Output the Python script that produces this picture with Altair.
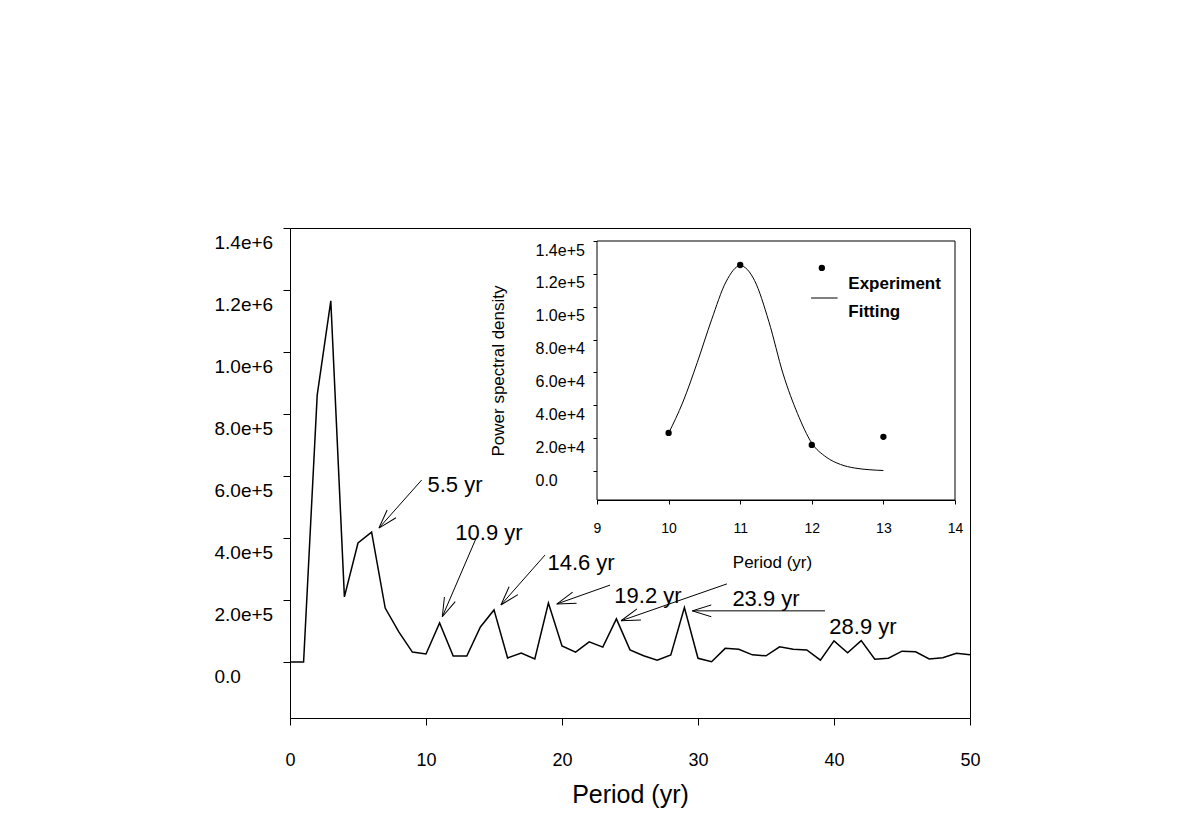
import math
import altair as alt
import pandas as pd

# ---------------- main spectrum ----------------
period = list(range(0, 51))
power = [0, 0, 861e3, 1165e3, 210e3, 384e3, 419e3, 174e3, 97e3, 32e3,
         26e3, 126e3, 19e3, 19e3, 113e3, 168e3, 13e3, 29e3, 10e3, 190e3,
         52e3, 32e3, 65e3, 48e3, 139e3, 39e3, 20e3, 6e3, 23e3, 176e3,
         12e3, 1e3, 44e3, 41e3, 23e3, 20e3, 49e3, 41e3, 39e3, 6e3,
         68e3, 30e3, 69e3, 9e3, 12e3, 35e3, 33e3, 10e3, 14e3, 28e3, 23e3]

# annotations
ann_labels = ["5.5 yr", "10.9 yr", "14.6 yr", "19.2 yr", "23.9 yr", "28.9 yr"]
ann_text_x = [12.13, 14.63, 21.40, 26.32, 35.0, 42.13]
ann_text_y = [571e3, 416e3, 319e3, 213e3, 203e3, 113e3]
arrow_x0 = [9.68, 13.73, 18.75, 23.53, 32.13, 39.34]
arrow_y0 = [587e3, 404e3, 345e3, 248e3, 252e3, 165e3]
arrow_x1 = [6.54, 11.20, 15.51, 19.61, 24.34, 29.58]
arrow_y1 = [432e3, 146e3, 184e3, 187e3, 133e3, 165e3]

# ---------------- inset ----------------
exp_period = [10, 11, 12, 13]
exp_power = [23.2e3, 125.4e3, 15.9e3, 20.8e3]
fit_period = [10.0, 10.2, 10.4, 10.6, 10.8, 11.0, 11.2, 11.4, 11.6, 11.8,
              12.0, 12.2, 12.4, 12.6, 12.8, 13.0]
fit_power = [23e3, 42e3, 66e3, 92e3, 115e3, 125e3, 116e3, 91e3, 59e3, 35e3,
             17e3, 8.5e3, 4e3, 1.8e3, 0.8e3, 0.3e3]

legend_labels = ["Experiment", "Fitting"]
legend_text_x = [12.51, 12.51]
legend_text_y = [114e3, 97e3]
legend_pt_x = [12.14]
legend_pt_y = [123.6e3]
legend_line_x = [11.99]
legend_line_x2 = [12.36]
legend_line_y = [105.3e3]

FONT = "Liberation Sans"
W, H = 680, 490
Y_MIN = -180645
Y_MAX = 1.4e6
IN_Y_MIN = -17652
IN_Y_MAX = 1.4e5

# ---------- main chart scales/axes ----------
xs = alt.Scale(domain=[0, 50], nice=False, zero=False)
ys = alt.Scale(domain=[Y_MIN, Y_MAX], nice=False, zero=False)
label_expr = "datum.value == 0 ? '0.0' : format(datum.value, '.1e')"
x_axis = alt.Axis(values=[0, 10, 20, 30, 40, 50], tickSize=7, labelFontSize=18,
                  labelPadding=35, labelBaseline="middle", title="Period (yr)",
                  titleFontSize=25, titleFontWeight="normal", titleX=340, titleY=64,
                  titleBaseline="top", titleAlign="center", grid=False)
y_axis = alt.Axis(values=[i * 2e5 for i in range(8)], labelExpr=label_expr, tickSize=7,
                  labelAlign="left", labelPadding=69, labelBaseline="middle",
                  labelOffset=14, labelFontSize=19, title=None, grid=False)

main_df = pd.DataFrame({"period": period, "power": power})
line = alt.Chart(main_df).mark_line(color="black", strokeWidth=1.5).encode(
    x=alt.X("period:Q", scale=xs, axis=x_axis),
    y=alt.Y("power:Q", scale=ys, axis=y_axis),
)

kx = W / 50.0
ky = H / (Y_MAX - Y_MIN)
angles = []
for a, b, c, d in zip(arrow_x0, arrow_y0, arrow_x1, arrow_y1):
    dx = (c - a) * kx
    dy = -(d - b) * ky
    angles.append(math.degrees(math.atan2(dy, dx)) % 360)

arr_df = pd.DataFrame({"x0": arrow_x0, "y0": arrow_y0, "x1": arrow_x1,
                       "y1": arrow_y1, "ang": angles})
shafts = alt.Chart(arr_df).mark_rule(color="black", strokeWidth=1).encode(
    x=alt.X("x0:Q", scale=xs, axis=x_axis),
    y=alt.Y("y0:Q", scale=ys, axis=y_axis),
    x2="x1:Q", y2="y1:Q",
)
heads = alt.Chart(arr_df).mark_point(
    shape="M0,0L-2,-0.62M0,0L-2,0.62", filled=False, stroke="black",
    strokeWidth=1, size=361, opacity=1
).encode(
    x=alt.X("x1:Q", scale=xs, axis=x_axis),
    y=alt.Y("y1:Q", scale=ys, axis=y_axis),
    angle=alt.Angle("ang:Q", scale=None),
)
ann_df = pd.DataFrame({"tx": ann_text_x, "ty": ann_text_y, "label": ann_labels})
ann = alt.Chart(ann_df).mark_text(font=FONT, fontSize=22, color="black",
                                  align="center", baseline="middle").encode(
    x=alt.X("tx:Q", scale=xs, axis=x_axis),
    y=alt.Y("ty:Q", scale=ys, axis=y_axis),
    text="label:N",
)
main = alt.layer(line, shafts, heads, ann)

# ---------- inset scales/axes ----------
ixs = alt.Scale(domain=[9, 14], range=[307, 665], nice=False, zero=False)
iys = alt.Scale(domain=[IN_Y_MIN, IN_Y_MAX], range=[272, 13], nice=False, zero=False)
ix_axis = alt.Axis(orient="bottom", offset=-218, values=[9, 10, 11, 12, 13, 14],
                   tickSize=4, labelFontSize=14, labelPadding=24, labelBaseline="middle",
                   title="Period (yr)", titleFontSize=17, titleFontWeight="normal",
                   titleX=482, titleY=62, titleBaseline="middle", titleAlign="center",
                   grid=False)
iy_axis = alt.Axis(orient="left", offset=-307, values=[i * 2e4 for i in range(8)],
                   labelExpr=label_expr, tickSize=4, labelAlign="left", labelPadding=58,
                   labelBaseline="middle", labelOffset=9, labelFontSize=16,
                   title="Power spectral density", titleFontSize=17,
                   titleFontWeight="normal", titleX=-99, titleY=142.5,
                   titleBaseline="middle", titleAlign="center", grid=False)

frame_df = pd.DataFrame({"a": [9], "b": [14], "c": [IN_Y_MIN], "d": [IN_Y_MAX]})
frame = alt.Chart(frame_df).mark_rect(fill="white", stroke="black", strokeWidth=1).encode(
    x=alt.X("a:Q", scale=ixs, axis=ix_axis),
    x2="b:Q",
    y=alt.Y("c:Q", scale=iys, axis=iy_axis),
    y2="d:Q",
)
fit_df = pd.DataFrame({"p": fit_period, "v": fit_power})
fit = alt.Chart(fit_df).mark_line(color="black", strokeWidth=1, interpolate="monotone").encode(
    x=alt.X("p:Q", scale=ixs, axis=ix_axis),
    y=alt.Y("v:Q", scale=iys, axis=iy_axis),
)
exp_df = pd.DataFrame({"p": exp_period, "v": exp_power})
pts = alt.Chart(exp_df).mark_circle(color="black", size=40, opacity=1).encode(
    x=alt.X("p:Q", scale=ixs, axis=ix_axis),
    y=alt.Y("v:Q", scale=iys, axis=iy_axis),
)
lp_df = pd.DataFrame({"p": legend_pt_x, "v": legend_pt_y})
leg_pt = alt.Chart(lp_df).mark_circle(color="black", size=40, opacity=1).encode(
    x=alt.X("p:Q", scale=ixs, axis=ix_axis),
    y=alt.Y("v:Q", scale=iys, axis=iy_axis),
)
ll_df = pd.DataFrame({"p": legend_line_x, "p2": legend_line_x2, "v": legend_line_y})
leg_line = alt.Chart(ll_df).mark_rule(color="black", strokeWidth=1).encode(
    x=alt.X("p:Q", scale=ixs, axis=ix_axis),
    x2="p2:Q",
    y=alt.Y("v:Q", scale=iys, axis=iy_axis),
)
lt_df = pd.DataFrame({"p": legend_text_x, "v": legend_text_y, "label": legend_labels})
leg_text = alt.Chart(lt_df).mark_text(font=FONT, fontSize=17, fontWeight="bold",
                                      color="black", align="left",
                                      baseline="middle").encode(
    x=alt.X("p:Q", scale=ixs, axis=ix_axis),
    y=alt.Y("v:Q", scale=iys, axis=iy_axis),
    text="label:N",
)
inset = alt.layer(frame, fit, pts, leg_pt, leg_line, leg_text)

chart = alt.layer(main, inset).resolve_scale(
    x="independent", y="independent"
).properties(
    width=W, height=H,
    autosize=alt.AutoSizeParams(type="none"),
    padding={"left": 290, "top": 228, "right": 220, "bottom": 116},
    background="white",
).configure_view(
    stroke="black", strokeWidth=1
).configure_axis(
    labelFont=FONT, titleFont=FONT, labelColor="black", titleColor="black",
    tickColor="black", domainColor="black", domainWidth=1, tickWidth=1,
    labelOverlap=False, labelFlush=False, labelBound=False,
)

chart.save("out.html", embed_options={"renderer": "svg", "actions": False})
